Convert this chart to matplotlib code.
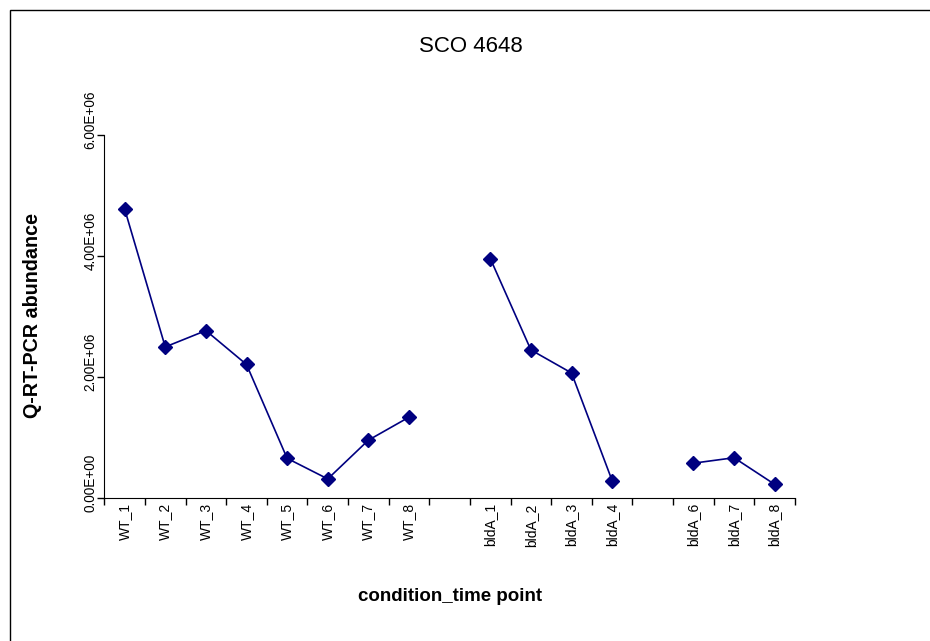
import numpy as np
import matplotlib
matplotlib.use("Agg")
import matplotlib.pyplot as plt
import matplotlib.transforms as mtransforms
from matplotlib.patches import Rectangle
from matplotlib.ticker import FuncFormatter

# categories (empty string = gap column in the original sheet)
categories = ["WT_1", "WT_2", "WT_3", "WT_4", "WT_5", "WT_6", "WT_7", "WT_8", "",
              "bldA_1", "bldA_2", "bldA_3", "bldA_4", "",
              "bldA_6", "bldA_7", "bldA_8"]
abundance = [4.78e6, 2.50e6, 2.77e6, 2.21e6, 0.66e6, 0.32e6, 0.96e6, 1.34e6, np.nan,
             3.96e6, 2.45e6, 2.07e6, 0.29e6, np.nan,
             0.58e6, 0.67e6, 0.23e6]
y_ticks = [0, 2e6, 4e6, 6e6]

plt.rcParams["font.family"] = ["Liberation Sans", "DejaVu Sans"]

fig = plt.figure(figsize=(9.3, 6.41), dpi=100)
ax = fig.add_axes([104.3 / 930, 1 - 498.3 / 641, (795 - 104.3) / 930, (498.3 - 135) / 641])

# outer chart-area frame (cut off at right/bottom like the original)
fig.patches.append(Rectangle((10 / 930, -0.05), 1.2, 1 - 10 / 641 + 0.05,
                             transform=fig.transFigure, fill=False,
                             edgecolor="black", linewidth=1.0))

x = np.arange(len(categories)) + 0.5
ax.plot(x, abundance, color="#000080", linewidth=1.2, marker="D",
        markersize=7, markerfacecolor="#000080", markeredgecolor="#000080")

ax.set_xlim(0, len(categories))
ax.set_ylim(0, 6e6)
ax.set_xticks(np.arange(len(categories) + 1))
ax.set_xticklabels([])
ax.set_xticks(x, minor=True)
ax.set_xticklabels(categories, minor=True, rotation=90, fontsize=10)
ax.tick_params(axis="x", which="minor", length=0, pad=3.5)
ax.tick_params(axis="x", which="major", length=5, direction="out", width=1)

ax.set_yticks(y_ticks)
ax.yaxis.set_major_formatter(FuncFormatter(lambda v, p: "%.2E" % v))
ax.tick_params(axis="y", length=5, direction="out", width=1, labelsize=9.8, pad=0)
shift_down = mtransforms.ScaledTranslation(0, -10 / 72, fig.dpi_scale_trans)
for lbl in ax.get_yticklabels():
    lbl.set_rotation(90)
    lbl.set_va("bottom")
    lbl.set_transform(lbl.get_transform() + shift_down)

ax.spines["top"].set_visible(False)
ax.spines["right"].set_visible(False)

ax.set_ylabel("Q-RT-PCR abundance", fontsize=14.2, fontweight="bold", va="center")
ax.yaxis.set_label_coords(-0.104, 0.502)
ax.set_xlabel("condition_time point", fontsize=13.5, fontweight="bold", va="center")
ax.xaxis.set_label_coords(0.5005, -0.27)
fig.text(471 / 930, 1 - 47 / 641, "SCO 4648", ha="center", va="center", fontsize=16)

fig.savefig("out.png", dpi=100)
